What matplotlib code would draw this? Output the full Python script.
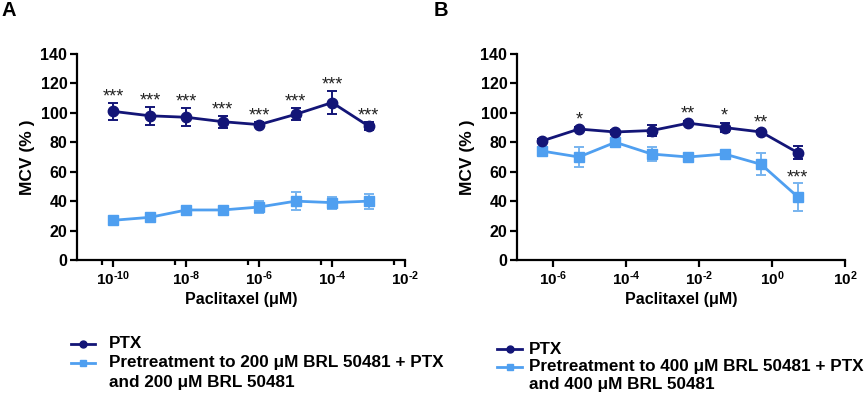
import matplotlib
matplotlib.use("Agg")
import matplotlib.pyplot as plt
from matplotlib.lines import Line2D
from matplotlib.ticker import FixedLocator, FixedFormatter, NullFormatter
import numpy as np

plt.rcParams['font.family'] = ['Liberation Sans', 'DejaVu Sans']
plt.rcParams['font.weight'] = 'bold'
plt.rcParams['mathtext.fontset'] = 'custom'
plt.rcParams['mathtext.rm'] = 'Liberation Sans:bold'
plt.rcParams['mathtext.bf'] = 'Liberation Sans:bold'
plt.rcParams['mathtext.it'] = 'Liberation Sans:bold'

DARK = '#131577'
LIGHT = '#4f9ff0'
LIGHT_ERR = '#78b4ef'

# ---- Panel A data ----
conc_a = [1e-10, 1e-9, 1e-8, 1e-7, 1e-6, 1e-5, 1e-4, 1e-3]
ptx_a = [101, 98, 97, 94, 92, 99, 107, 91]
ptx_a_err = [6, 6, 6, 4, 1.5, 4, 8, 2.5]
pre_a = [27, 29, 34, 34, 36, 40, 39, 40]
pre_a_err = [1.5, 1.5, 2, 1.5, 4, 6, 4, 5]
sig_a = ['***', '***', '***', '***', '***', '***', '***', '***']
ticks_a = [1e-10, 1e-8, 1e-6, 1e-4, 1e-2]
ticklabels_a = ['$10^{\\text{-}10}$', '$10^{\\text{-}8}$', '$10^{\\text{-}6}$',
                '$10^{\\text{-}4}$', '$10^{\\text{-}2}$']
minor_a = [5e-11, 5e-9, 5e-7, 5e-5, 5e-3]

# ---- Panel B data ----
conc_b = [5e-7, 5e-6, 5e-5, 5e-4, 5e-3, 5e-2, 5e-1, 5]
ptx_b = [81, 89, 87, 88, 93, 90, 87, 73]
ptx_b_err = [1.5, 1.5, 1.5, 3.5, 1.5, 3, 1.5, 4.5]
pre_b = [74, 70, 80, 72, 70, 72, 65, 43]
pre_b_err = [2.5, 7, 3, 4.5, 2, 1.5, 7.5, 9.5]
sig_b_ptx = ['', '*', '', '', '**', '*', '**', '']
sig_b_pre = ['', '', '', '', '', '', '', '***']
ticks_b = [1e-6, 1e-4, 1e-2, 1, 1e2]
ticklabels_b = ['$10^{\\text{-}6}$', '$10^{\\text{-}4}$', '$10^{\\text{-}2}$',
                '$10^{0}$', '$10^{2}$']

yticks = [0, 20, 40, 60, 80, 100, 120, 140]

W, H = 865, 405
fig = plt.figure(figsize=(W / 100, H / 100), dpi=100)
axA = fig.add_axes([77 / W, 1 - 260 / H, 328 / W, 206 / H])
axB = fig.add_axes([517 / W, 1 - 260 / H, 328 / W, 206 / H])


def style(ax, xlim, ticks, labels, minor=None):
    ax.set_xscale('log')
    ax.set_xlim(*xlim)
    ax.set_ylim(0, 140)
    ax.set_yticks(yticks)
    ax.set_yticklabels([str(v) for v in yticks], fontsize=11.5, fontweight='bold')
    ax.xaxis.set_major_locator(FixedLocator(ticks))
    ax.xaxis.set_major_formatter(FixedFormatter(labels))
    if minor:
        ax.xaxis.set_minor_locator(FixedLocator(minor))
    else:
        ax.xaxis.set_minor_locator(FixedLocator([]))
    ax.xaxis.set_minor_formatter(NullFormatter())
    for lab in ax.get_xticklabels():
        lab.set_fontsize(11)
    for s in ['top', 'right']:
        ax.spines[s].set_visible(False)
    for s in ['left', 'bottom']:
        ax.spines[s].set_linewidth(1.6)
        ax.spines[s].set_color('black')
    ax.tick_params(axis='both', which='major', length=5, width=1.6, direction='out', pad=2)
    ax.tick_params(axis='x', which='minor', length=3.5, width=1.6, direction='out')
    ax.set_ylabel('MCV (% )', fontsize=12.5, fontweight='bold', labelpad=4)
    ax.set_xlabel('Paclitaxel (\u03bcM)', fontsize=11.5, fontweight='bold', labelpad=3)


def series(ax, x, y, e, color, ecolor, marker, ms):
    ax.errorbar(x, y, yerr=e, color=color, ecolor=ecolor, marker=marker, ms=ms,
                lw=2, elinewidth=1.4, capsize=3.5, capthick=1.4, mec=color, mfc=color,
                clip_on=False, zorder=3)


def stars(ax, x, y, e, s, off):
    if s:
        ax.text(x, y + e + off, s, ha='center', va='baseline', fontsize=13,
                fontweight='normal', color='#222222')


style(axA, (1e-11, 1e-2), ticks_a, ticklabels_a, minor_a)
series(axA, conc_a, pre_a, pre_a_err, LIGHT, LIGHT_ERR, 's', 6.5)
series(axA, conc_a, ptx_a, ptx_a_err, DARK, DARK, 'o', 7.5)
for x, y, e, s in zip(conc_a, ptx_a, ptx_a_err, sig_a):
    stars(axA, x, y, e, s, 1.0)

style(axB, (1e-7, 1e2), ticks_b, ticklabels_b)
series(axB, conc_b, pre_b, pre_b_err, LIGHT, LIGHT_ERR, 's', 6.5)
series(axB, conc_b, ptx_b, ptx_b_err, DARK, DARK, 'o', 7.5)
for x, y, e, s in zip(conc_b, ptx_b, ptx_b_err, sig_b_ptx):
    stars(axB, x, y, e, s, 1.5)
for x, y, e, s in zip(conc_b, pre_b, pre_b_err, sig_b_pre):
    stars(axB, x, y, e, s, 0.5)

# panel letters
fig.text(2 / W, 1 - 11 / H, 'A', fontsize=14.5, fontweight='bold', va='center', ha='left')
fig.text(434 / W, 1 - 11 / H, 'B', fontsize=14.5, fontweight='bold', va='center', ha='left')

LEG_FS = 12.3


def legend_entry(x0, x1, y, color, marker, ms, tx, text):
    yy = 1 - y / H
    ln = Line2D([x0 / W, (x0 + x1) / 2 / W, x1 / W], [yy, yy, yy], transform=fig.transFigure,
                color=color, lw=2, marker=marker, ms=ms, markevery=[1], mfc=color, mec=color)
    fig.add_artist(ln)
    fig.text(tx / W, yy, text, fontsize=LEG_FS, fontweight='bold', va='center', ha='left')


legend_entry(71, 95, 344, DARK, 'o', 5, 109, 'PTX')
legend_entry(71, 95, 363, LIGHT, 's', 5, 109, 'Pretreatment to 200 \u03bcM BRL 50481 + PTX')
fig.text(109 / W, 1 - 383 / H, 'and 200 \u03bcM BRL 50481', fontsize=LEG_FS, fontweight='bold', va='center', ha='left')

legend_entry(497, 522, 349, DARK, 'o', 5, 529, 'PTX')
legend_entry(497, 522, 367, LIGHT, 's', 5, 529, 'Pretreatment to 400 \u03bcM BRL 50481 + PTX')
fig.text(529 / W, 1 - 384 / H, 'and 400 \u03bcM BRL 50481', fontsize=LEG_FS, fontweight='bold', va='center', ha='left')

fig.savefig('out.png', dpi=100, facecolor='white')
